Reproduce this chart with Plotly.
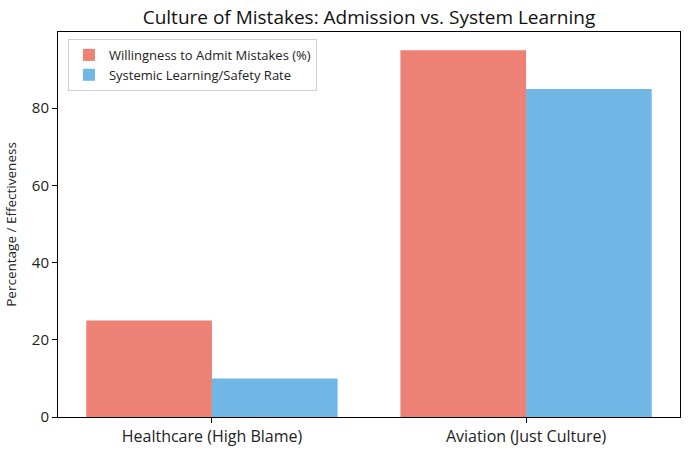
import plotly.graph_objects as go

categories = ["Healthcare (High Blame)", "Aviation (Just Culture)"]
admit_mistakes = [25, 95]
system_learning = [10, 85]

font_family = "'Open Sans', Roboto, sans-serif"

fig = go.Figure()
fig.add_trace(go.Bar(
    x=categories, y=admit_mistakes, name="Willingness to Admit Mistakes (%)",
    marker=dict(color="rgba(231,76,60,0.7)", line=dict(width=0)),
))
fig.add_trace(go.Bar(
    x=categories, y=system_learning, name="Systemic Learning/Safety Rate",
    marker=dict(color="rgba(52,152,219,0.7)", line=dict(width=0)),
))

fig.update_layout(
    width=690, height=454,
    margin=dict(l=58, r=10, t=32, b=37, autoexpand=False),
    paper_bgcolor="white", plot_bgcolor="white",
    font=dict(family=font_family, color="#222"),
    barmode="group", bargap=0.2, bargroupgap=0,
    title=dict(text="Culture of Mistakes: Admission vs. System Learning",
               x=(58 + 311) / 690, xanchor="center", y=1 - 17 / 454, yanchor="middle",
               font=dict(size=19, color="#111")),
    legend=dict(x=0.016, y=0.982, xanchor="left", yanchor="top",
                bgcolor="rgba(255,255,255,0.8)", bordercolor="#d0d0d0", borderwidth=1,
                font=dict(size=13, color="#222"), itemwidth=30, tracegroupgap=0),
    showlegend=True,
)
fig.update_xaxes(
    type="category", range=[-0.49, 1.49],
    showline=True, linecolor="black", linewidth=1, mirror=True,
    ticks="outside", ticklen=5, tickcolor="black",
    tickfont=dict(size=16, color="#222"), showgrid=False, automargin=False,
)
fig.update_yaxes(
    range=[0, 99.75], tickvals=[0, 20, 40, 60, 80],
    showline=True, linecolor="black", linewidth=1, mirror=True,
    ticks="outside", ticklen=5, tickcolor="black",
    tickfont=dict(size=15, color="#222"), showgrid=False, zeroline=False, automargin=False,
    title=dict(text="Percentage / Effectiveness", font=dict(size=13.5, color="#222"), standoff=12),
)

# drop the default 8px page margin so the figure sits at the window corner
fig.write_html("out.html", config={"displayModeBar": False},
               post_script="document.body.style.margin='0';")
